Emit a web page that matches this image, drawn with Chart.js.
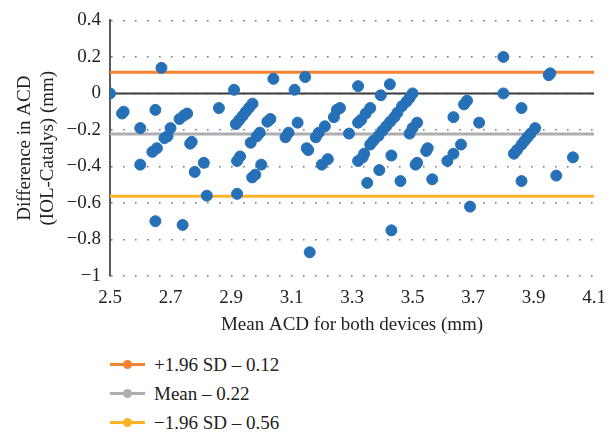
<!DOCTYPE html>
<html>
<head>
<meta charset="utf-8">
<script src="https://cdn.jsdelivr.net/npm/chart.js@4.4.1/dist/chart.umd.min.js"></script>
<style>
  body { margin: 0; background: #fff; }
  #wrap { position: relative; width: 609px; height: 432px; }
  #plot { position: absolute; left: 0; top: 0; }
  .legend { position: absolute; left: 110px; top: 350px; font-family: "Liberation Serif", serif; font-size: 19px; color: #222; }
  .row { position: relative; height: 29px; line-height: 29px; padding-left: 44px; white-space: nowrap; }
  .row .ln { position: absolute; left: 0; top: 13px; width: 35px; height: 3px; }
  .row .dot { position: absolute; left: 13px; top: 10px; width: 9px; height: 9px; border-radius: 50%; }
</style>
</head>
<body>
<div id="wrap">
  <canvas id="plot" width="609" height="340"></canvas>
  <div class="legend" id="legend"></div>
</div>
<script>
// Bland-Altman data: mean ACD (x) and difference IOL - Catalys (y)
const meanACD = [
  2.50, 2.54, 2.545, 2.60, 2.60, 2.65, 2.67, 2.64, 2.655, 2.68,
  2.69, 2.70, 2.73, 2.745, 2.755, 2.77, 2.765, 2.78, 2.81, 2.82,
  2.65, 2.74, 2.86, 2.91, 2.916, 2.927, 2.938, 2.949, 2.96, 2.971,
  2.92, 2.92, 2.93, 2.965, 2.97, 2.98, 2.985, 2.995, 3.00, 3.02,
  3.03, 3.04, 3.08, 3.09, 3.11, 3.12, 3.145, 3.15, 3.155, 3.16,
  3.18, 3.19, 3.21, 3.20, 3.22, 3.24, 3.25, 3.26, 3.29, 3.32,
  3.32, 3.33, 3.32, 3.335, 3.34, 3.345, 3.36, 3.35, 3.36, 3.37,
  3.387, 3.40, 3.413, 3.426, 3.44, 3.45, 3.465, 3.48, 3.49, 3.50,
  3.395, 3.425, 3.39, 3.43, 3.43, 3.46, 3.49, 3.50, 3.515, 3.51,
  3.515, 3.545, 3.55, 3.565, 3.615, 3.635, 3.635, 3.66, 3.67, 3.68,
  3.69, 3.72, 3.80, 3.80, 3.835, 3.845, 3.86, 3.86, 3.86, 3.87,
  3.88, 3.89, 3.905, 3.95, 3.955, 3.975, 4.03
];
const diffACD = [
  0.00, -0.11, -0.10, -0.19, -0.39, -0.09, 0.14, -0.32, -0.30, -0.245,
  -0.235, -0.19, -0.14, -0.12, -0.11, -0.265, -0.275, -0.43, -0.38, -0.56,
  -0.70, -0.72, -0.08, 0.02, -0.168, -0.146, -0.124, -0.10, -0.078, -0.056,
  -0.55, -0.37, -0.345, -0.27, -0.46, -0.445, -0.235, -0.215, -0.39, -0.155,
  -0.14, 0.08, -0.24, -0.215, 0.02, -0.16, 0.09, -0.30, -0.31, -0.87,
  -0.24, -0.215, -0.18, -0.39, -0.36, -0.13, -0.09, -0.08, -0.22, 0.04,
  -0.16, -0.145, -0.37, -0.35, -0.33, -0.11, -0.08, -0.49, -0.28, -0.26,
  -0.233, -0.205, -0.18, -0.155, -0.13, -0.105, -0.07, -0.045, -0.025, 0.00,
  -0.01, 0.05, -0.42, -0.34, -0.75, -0.48, -0.22, -0.19, -0.16, -0.39,
  -0.38, -0.315, -0.30, -0.47, -0.37, -0.33, -0.13, -0.28, -0.06, -0.04,
  -0.62, -0.16, 0.20, 0.00, -0.33, -0.31, -0.08, -0.48, -0.28, -0.26,
  -0.24, -0.22, -0.19, 0.10, 0.11, -0.45, -0.35
];

const xRange = [2.5, 4.1];
const limitNames = ['+1.96 SD \u2013 0.12', 'Mean \u2013 0.22', '\u22121.96 SD \u2013 0.56'];
const limitValues = [0.116, -0.222, -0.563];
const limitColors = ['#f5822f', '#aeaeb2', '#fbb427'];

const serif = '"Liberation Serif", "DejaVu Serif", serif';

function fmtTick(v) {
  const r = Math.round(v * 10) / 10;
  if (r === 0) return '0';
  const s = Number.isInteger(r) ? String(Math.abs(r)) : Math.abs(r).toFixed(1);
  return r < 0 ? '\u2212' + s : s;
}

const datasets = [{
  type: 'scatter',
  data: meanACD.map((x, i) => ({ x: x, y: diffACD[i] })),
  backgroundColor: '#2670b8',
  borderColor: '#2670b8',
  pointRadius: 5.5,
  pointHoverRadius: 5.5,
  order: 0
}, {
  type: 'line',
  data: xRange.map(x => ({ x: x, y: 0 })),
  borderColor: '#3a3a3a',
  borderWidth: 2,
  pointRadius: 0,
  order: 2
}];
limitValues.forEach((v, i) => {
  datasets.push({
    type: 'line',
    label: limitNames[i],
    data: xRange.map(x => ({ x: x, y: v })),
    borderColor: limitColors[i],
    borderWidth: 3,
    pointRadius: 0,
    order: 1
  });
});

new Chart(document.getElementById('plot').getContext('2d'), {
  data: { datasets: datasets },
  options: {
    responsive: false,
    animation: false,
    events: [],
    layout: { padding: { top: 19, right: 12, left: 0, bottom: 0 } },
    plugins: { legend: { display: false }, tooltip: { enabled: false } },
    scales: {
      x: {
        type: 'linear',
        min: 2.5,
        max: 4.1,
        ticks: {
          stepSize: 0.2,
          color: '#222',
          font: { family: serif, size: 19 },
          padding: 3,
          callback: v => v.toFixed(1)
        },
        grid: { display: false },
        border: { display: false },
        title: {
          display: true,
          text: 'Mean ACD for both devices (mm)',
          color: '#222',
          font: { family: serif, size: 19 },
          padding: { top: 0 }
        },
        afterFit: s => { s.height = 64; }
      },
      y: {
        min: -1,
        max: 0.4,
        ticks: {
          stepSize: 0.2,
          color: '#222',
          font: { family: serif, size: 19 },
          padding: 9,
          callback: fmtTick
        },
        grid: {
          color: '#7a7a7a',
          lineWidth: 1.6,
          drawTicks: false
        },
        border: { display: true, color: '#5a5a5a', width: 2, dash: [1.6, 10.4], dashOffset: -12 },
        title: {
          display: true,
          text: ['Difference in ACD', '(IOL-Catalys) (mm)'],
          color: '#222',
          font: { family: serif, size: 19 },
          lineHeight: 1.1,
          padding: { top: 14, bottom: 0 }
        },
        afterFit: s => { s.width = 110; }
      }
    }
  }
});

// legend below the plot
const legend = document.getElementById('legend');
limitNames.forEach((name, i) => {
  const row = document.createElement('div');
  row.className = 'row';
  row.innerHTML = '<span class="ln" style="background:' + limitColors[i] + '"></span>' +
    '<span class="dot" style="background:' + limitColors[i] + '"></span>' + name;
  legend.appendChild(row);
});
</script>
</body>
</html>
